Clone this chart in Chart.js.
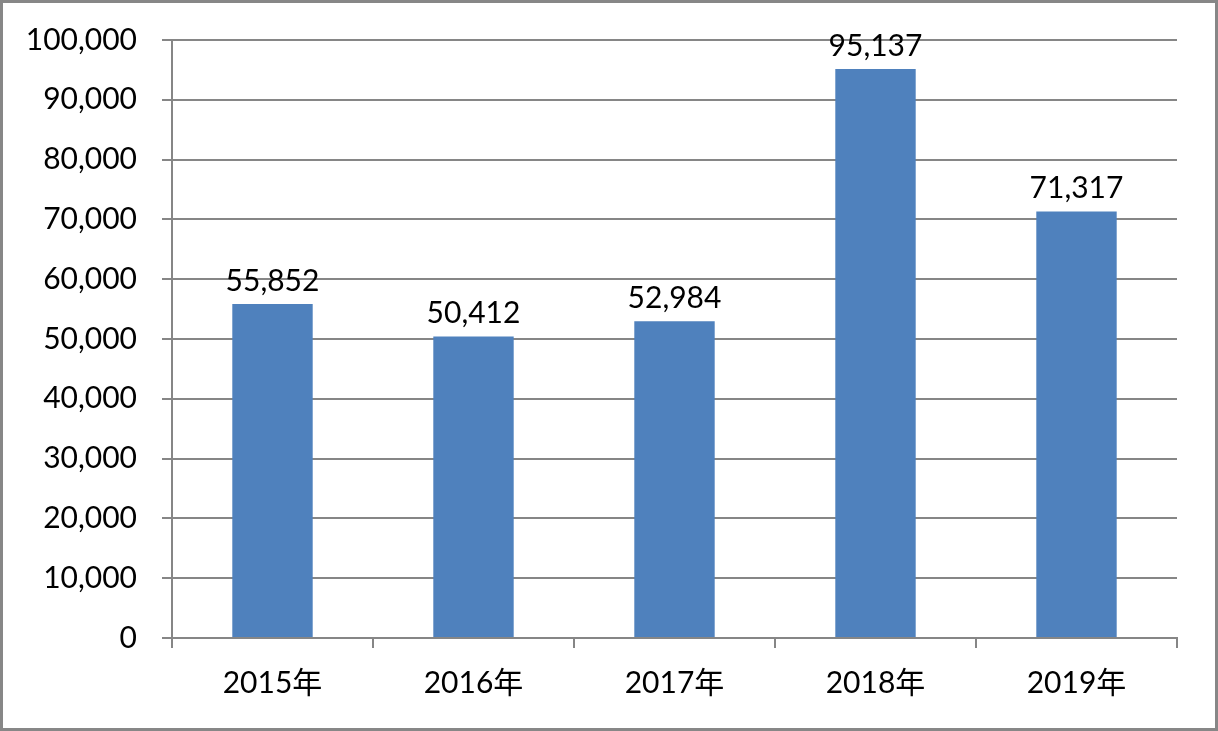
<!DOCTYPE html>
<html>
<head>
<meta charset="utf-8">
<script src="https://cdn.jsdelivr.net/npm/chart.js@4"></script>
<style>
  html, body { margin: 0; padding: 0; background: #fff; }
  #frame { box-sizing: border-box; width: 1218px; height: 731px; border: 3px solid #878787; background: #fff; }
  #chart { display: block; }
</style>
</head>
<body>
<div id="frame"><canvas id="chart" width="1212" height="725"></canvas></div>
<script>
  // ── Datos ────────────────────────────────────────────────
  var categorias = ['2015年', '2016年', '2017年', '2018年', '2019年'];
  var valores = [55852, 50412, 52984, 95137, 71317];
  var yTicks = [0, 10000, 20000, 30000, 40000, 50000, 60000, 70000, 80000, 90000, 100000];

  var FONT = "Lato, 'Noto Sans CJK JP', sans-serif";
  var GRIS = '#868686';

  function fmt(v) { return Number(v).toLocaleString('en-US'); }

  // ── Etiquetas de valor sobre cada barra ──────────────────
  var etiquetas = {
    id: 'etiquetas',
    afterDatasetsDraw: function (chart) {
      var ctx = chart.ctx;
      var meta = chart.getDatasetMeta(0);
      ctx.save();
      ctx.font = '30px ' + FONT;
      ctx.fillStyle = '#000';
      ctx.textAlign = 'center';
      ctx.textBaseline = 'bottom';
      meta.data.forEach(function (bar, i) {
        ctx.fillText(fmt(valores[i]), bar.x, bar.y - 8);
      });
      ctx.restore();
    }
  };

  new Chart(document.getElementById('chart').getContext('2d'), {
    type: 'bar',
    data: {
      labels: categorias,
      datasets: [{
        data: valores,
        backgroundColor: '#4F81BD',
        borderWidth: 0,
        categoryPercentage: 1,
        barPercentage: 0.4
      }]
    },
    options: {
      responsive: false,
      animation: false,
      layout: { padding: { top: 37, right: 38, left: 0, bottom: 0 } },
      plugins: { legend: { display: false }, tooltip: { enabled: false } },
      scales: {
        x: {
          grid: { drawOnChartArea: false, drawTicks: true, tickLength: 10, color: GRIS, lineWidth: 2, offset: true },
          border: { display: true, color: GRIS, width: 2 },
          ticks: { color: '#000', font: { family: FONT, size: 30 }, padding: 17, maxRotation: 0 },
          afterFit: function (s) { s.height = 90; s.paddingLeft = 0; s.paddingRight = 0; }
        },
        y: {
          min: 0, max: 100000,
          afterBuildTicks: function (s) { s.ticks = yTicks.map(function (v) { return { value: v }; }); },
          grid: { color: GRIS, lineWidth: 2, tickLength: 10 },
          border: { display: true, color: GRIS, width: 2 },
          ticks: { color: '#000', font: { family: FONT, size: 30 }, padding: 25, callback: function (v) { return fmt(v); } },
          afterFit: function (s) { s.width = 169; s.paddingTop = 0; s.paddingBottom = 0; }
        }
      }
    },
    plugins: [etiquetas]
  });
</script>
</body>
</html>
